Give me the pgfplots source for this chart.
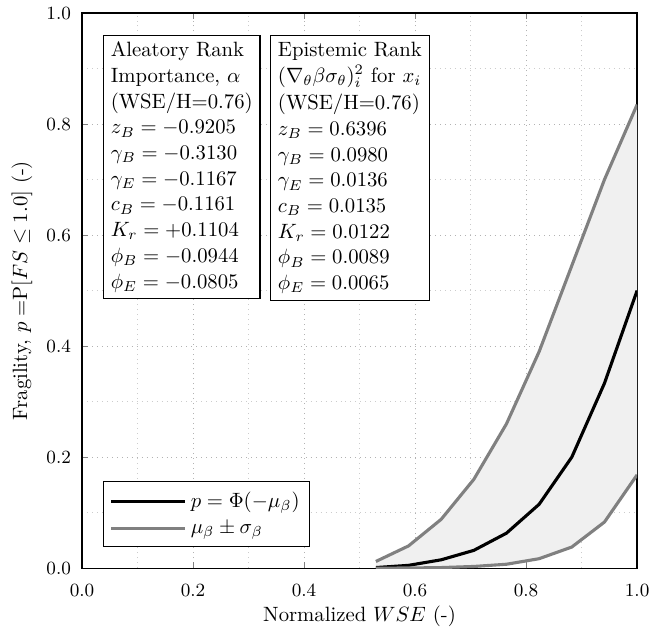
\documentclass[border=0pt]{standalone}
\usepackage{pgfplots}
\pgfplotsset{compat=1.18}
\definecolor{midgray}{RGB}{128,128,128}
\definecolor{fillgray}{RGB}{240,240,240}
\begin{document}
\begin{tikzpicture}
\begin{axis}[
  name=ax,
  width=268pt, height=268pt, scale only axis,
  xmin=0, xmax=1, ymin=0, ymax=1,
  xtick={0,0.2,...,1.0}, ytick={0,0.2,...,1.0},
  minor tick num=1, minor tick length=0pt,
  tick align=inside, major tick length=3pt,
  tick label style={font=\small},
  xticklabel style={yshift=-4.5pt, /pgf/number format/.cd, fixed, fixed zerofill, precision=1},
  yticklabel style={xshift=-1.8pt, /pgf/number format/.cd, fixed, fixed zerofill, precision=1},
  grid=both,
  major grid style={dotted, gray!60, line width=0.4pt},
  minor grid style={dotted, gray!40, line width=0.4pt},
  axis line style={line width=0.6pt},
  xlabel={Normalized $WSE$ (-)},
  xlabel style={at={(axis description cs:0.5,0)}, anchor=base, yshift=-26pt},
  ylabel={Fragility, $p =$P$[FS \leq 1.0]$ (-)},
  ylabel style={at={(axis description cs:0,0.5)}, anchor=center, yshift=29pt},
  legend style={at={(axis cs:0.038,0.038)}, anchor=south west, draw=black, line width=0.5pt, font=\normalsize, inner sep=3pt, row sep=1pt, cells={anchor=west}},
  legend cell align=left,
  legend image code/.code={\draw[#1] (0cm,0cm) -- (1.25cm,0cm);},
]
\addplot[fill=fillgray, draw=none, forget plot] coordinates {
 (0.5294,0.012) (0.5882,0.040) (0.6471,0.088) (0.7059,0.160) (0.7647,0.260) (0.8235,0.390) (0.8824,0.545) (0.9412,0.700) (1.0,0.835)
 (1.0,0.168) (0.9412,0.083) (0.8824,0.038) (0.8235,0.017) (0.7647,0.007) (0.7059,0.003) (0.6471,0.001) (0.5882,0.0002) (0.5294,0.0)
} -- cycle;
\addplot[black, line width=1.5pt] coordinates {
 (0.5294,0.001) (0.5882,0.005) (0.6471,0.015) (0.7059,0.032) (0.7647,0.063) (0.8235,0.115) (0.8824,0.200) (0.9412,0.333) (1.0,0.500)
};
\addlegendentry{$p = \Phi(-\mu_\beta)$}
\addplot[midgray, line width=1.5pt] coordinates {
 (0.5294,0.012) (0.5882,0.040) (0.6471,0.088) (0.7059,0.160) (0.7647,0.260) (0.8235,0.390) (0.8824,0.545) (0.9412,0.700) (1.0,0.835)
};
\addlegendentry{$\mu_\beta \pm \sigma_\beta$}
\addplot[midgray, line width=1.5pt, forget plot] coordinates {
 (0.5294,0.0) (0.5882,0.0002) (0.6471,0.001) (0.7059,0.003) (0.7647,0.007) (0.8235,0.017) (0.8824,0.038) (0.9412,0.083) (1.0,0.168)
};
\node[draw=black, fill=white, line width=0.5pt, anchor=north west, align=left, inner xsep=3.5pt, inner ysep=3.3pt, font=\fontsize{10}{12.4}\selectfont] at (axis cs:0.038,0.961) {Aleatory Rank\\Importance, $\alpha$\\(WSE/H=0.76)\\$z_B = -0.9205$\\$\gamma_B = -0.3130$\\$\gamma_E = -0.1167$\\$c_B = -0.1161$\\$K_r = +0.1104$\\$\phi_B = -0.0944$\\$\phi_E = -0.0805$};
\node[draw=black, fill=white, line width=0.5pt, anchor=north west, align=left, inner xsep=3.5pt, inner ysep=3.3pt, font=\fontsize{10}{12.4}\selectfont] at (axis cs:0.339,0.961) {Epistemic Rank\\$(\nabla_\theta\beta\sigma_\theta)_i^2$ for $x_i$\\[1pt](WSE/H=0.76)\\$z_B = 0.6396$\\$\gamma_B = 0.0980$\\$\gamma_E = 0.0136$\\$c_B = 0.0135$\\$K_r = 0.0122$\\$\phi_B = 0.0089$\\$\phi_E = 0.0065$};
\end{axis}
\pgfresetboundingbox
\useasboundingbox ([shift={(-39.6pt,-30.9pt)}]ax.south west) rectangle ([shift={(7.2pt,6.3pt)}]ax.north east);
\end{tikzpicture}
\end{document}
